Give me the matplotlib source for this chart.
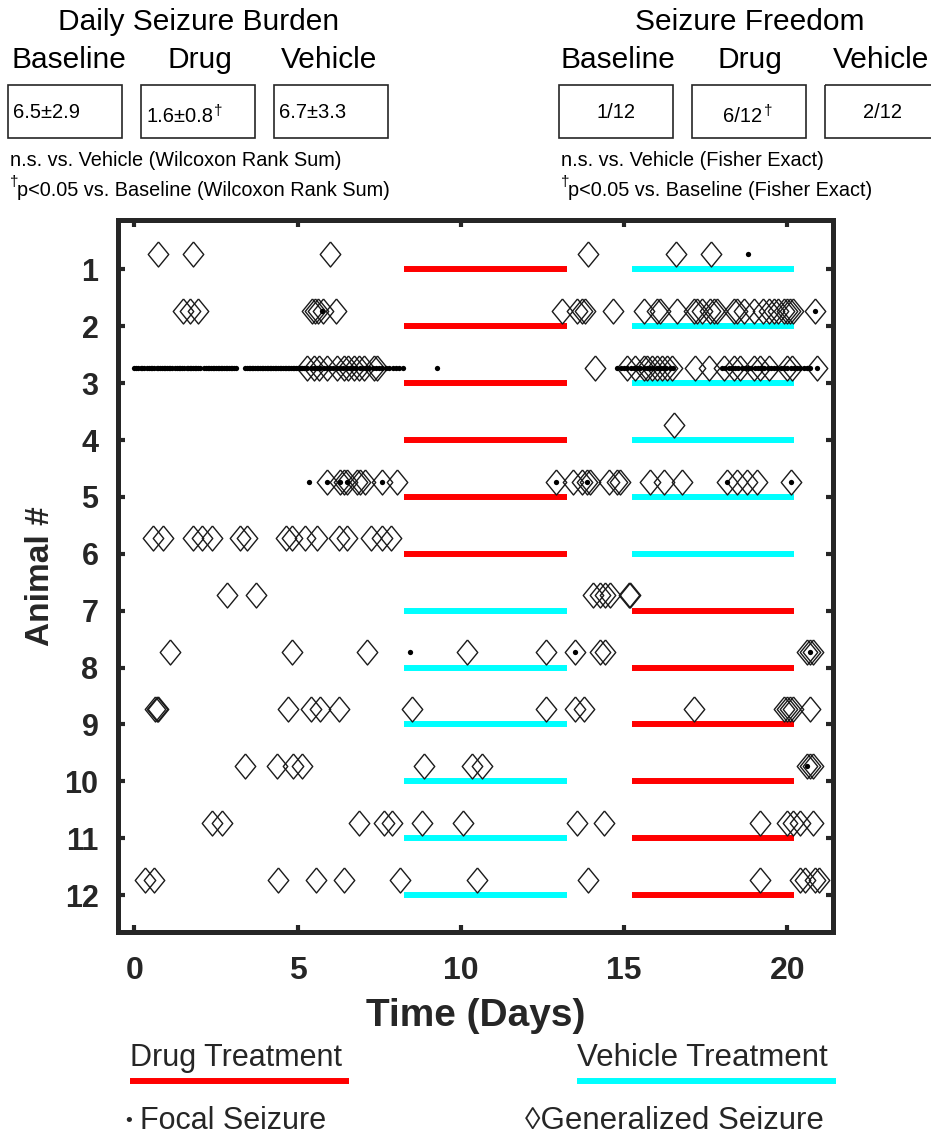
import matplotlib
matplotlib.use("Agg")
import matplotlib.pyplot as plt
from matplotlib.patches import Rectangle

# --- Data (days) ---
animals = list(range(1, 13))
period_a = (8.27, 13.26)   # first treatment block
period_b = (15.25, 20.2)   # second treatment block
drug_first = [1, 2, 3, 4, 5, 6]  # animals 7-12 received vehicle first

gen_1 = [0.73, 1.81, 6.0, 13.9, 16.6, 17.67]
focal_1 = [18.8]

gen_2 = [1.5, 1.72, 1.96, 5.45, 5.54, 5.64, 5.79, 6.19, 13.1, 13.57, 13.7, 13.8, 14.67,
         15.6, 16.0, 16.11, 16.62, 17.13, 17.23, 17.39, 17.64, 17.74, 17.85, 18.36,
         18.46, 18.66, 18.97, 19.27, 19.43, 19.58, 19.73, 19.89, 19.99, 20.09, 20.19, 20.86]
focal_2 = [5.76, 20.86]

gen_3 = [5.29, 5.49, 5.65, 5.9, 6.21, 6.41, 6.56, 6.72, 6.87, 7.02, 7.33, 7.43,
         14.12, 15.09, 15.35, 15.6, 15.7, 15.86, 16.01, 16.16, 16.32, 16.47,
         17.18, 17.59, 18.05, 18.36, 18.56, 18.97, 19.17, 19.43, 19.99, 20.14, 20.9]
focal_3 = [0.0, 0.06, 0.12, 0.2, 0.25, 0.31, 0.4, 0.45, 0.5, 0.55, 0.6, 0.68, 0.74, 0.8,
           0.85, 0.9, 0.95, 1.0, 1.05, 1.1, 1.16, 1.25, 1.32, 1.37, 1.4, 1.46, 1.52, 1.6,
           1.65, 1.7, 1.75, 1.8, 1.85, 1.9, 1.95, 2.0, 2.12, 2.2, 2.25, 2.3, 2.36, 2.4,
           2.45, 2.5, 2.55, 2.6, 2.65, 2.7, 2.75, 2.8, 2.85, 2.9, 2.95, 3.0, 3.05, 3.1,
           3.4, 3.45, 3.5, 3.55, 3.6, 3.65, 3.7, 3.75, 3.8, 3.85, 3.9, 3.95, 4.0, 4.05,
           4.1, 4.15, 4.2, 4.25, 4.3, 4.35, 4.4, 4.45, 4.5, 4.55, 4.6, 4.65, 4.7, 4.75,
           4.8, 4.85, 4.9, 4.95, 5.0, 5.05, 5.1, 5.15, 5.2, 5.3, 5.4, 5.5, 5.6, 5.7,
           5.8, 5.9, 6.0, 6.1, 6.2, 6.3, 6.4, 6.5, 6.6, 6.7, 6.8, 6.9, 7.0, 7.1, 7.2,
           7.3, 7.4, 7.5, 7.6, 7.7, 7.8, 7.92, 8.0, 8.12, 8.24, 9.28,
           14.79, 14.9, 15.0, 15.1, 15.2, 15.3, 15.4, 15.5, 15.6, 15.7, 15.8, 15.9,
           16.0, 16.1, 16.2, 16.3, 16.4, 16.5,
           18.0, 18.1, 18.2, 18.3, 18.4, 18.5, 18.6, 18.7, 18.8, 18.9, 19.0, 19.1,
           19.2, 19.3, 19.4, 19.5, 19.6, 19.7, 19.8, 19.9, 20.0, 20.1, 20.2, 20.3,
           20.4, 20.5, 20.6, 20.7, 20.9]

gen_4 = [16.54]
focal_4 = []

gen_5 = [5.9, 6.31, 6.41, 6.51, 6.82, 6.92, 7.07, 7.58, 8.04, 12.93, 13.45, 13.71, 13.86,
         13.97, 14.53, 14.78, 14.88, 15.8, 16.21, 16.79, 18.15, 18.46, 18.76, 19.07, 20.11]
focal_5 = [5.36, 5.9, 6.31, 6.51, 7.58, 12.93, 13.86, 18.15, 20.11]

gen_6 = [0.57, 0.88, 1.8, 2.07, 2.38, 3.25, 3.45, 4.64, 4.83, 5.24, 5.59, 6.26, 6.51,
         7.25, 7.58, 7.86]
focal_6 = []

gen_7 = [2.84, 3.74, 14.05, 14.27, 14.42, 14.58, 15.14, 15.19]
focal_7 = []

gen_8 = [1.1, 4.83, 7.12, 10.19, 12.62, 13.51, 14.27, 14.42, 20.6, 20.7, 20.8]
focal_8 = [8.43, 13.51, 20.7]

gen_9 = [0.64, 0.69, 0.74, 4.71, 5.42, 5.7, 6.27, 8.51, 12.62, 13.51, 13.77, 17.13,
         19.89, 19.99, 20.09, 20.19, 20.7]
focal_9 = []

gen_10 = [3.4, 4.37, 4.86, 5.15, 8.87, 10.35, 10.66, 20.6, 20.7, 20.8]
focal_10 = [20.6]

gen_11 = [2.38, 2.68, 6.88, 7.66, 7.9, 8.82, 10.07, 13.56, 14.4, 19.17, 19.99, 20.19,
          20.4, 20.8]
focal_11 = []

gen_12 = [0.33, 0.59, 4.4, 5.57, 6.41, 8.15, 10.5, 13.9, 19.17, 20.4, 20.55, 20.86, 20.96]
focal_12 = []

gen_all = [gen_1, gen_2, gen_3, gen_4, gen_5, gen_6, gen_7, gen_8, gen_9, gen_10, gen_11, gen_12]
focal_all = [focal_1, focal_2, focal_3, focal_4, focal_5, focal_6, focal_7, focal_8,
             focal_9, focal_10, focal_11, focal_12]

burden_labels = ["6.5\u00b12.9", "1.6\u00b10.8", "6.7\u00b13.3"]
freedom_labels = ["1/12", "6/12", "2/12"]
group_names = ["Baseline", "Drug", "Vehicle"]

# --- Style ---
plt.rcParams.update({
    'font.family': ['Liberation Sans', 'DejaVu Sans'],
})
DRUG = '#ff0000'
VEH = '#00ffff'
DARK = '#262626'
row_offset = 0.27
diamond = [(0, 1), (0.82, 0), (0, -1), (-0.82, 0), (0, 1)]

fig = plt.figure(figsize=(9.31, 11.35), dpi=100)
ax = fig.add_axes([118 / 931, 1 - 932 / 1135, 715 / 931, 712 / 1135])

for i, a in enumerate(animals):
    if a in drug_first:
        c1, c2 = DRUG, VEH
    else:
        c1, c2 = VEH, DRUG
    ax.plot(period_a, [a, a], color=c1, lw=4.3, solid_capstyle='butt', zorder=2)
    ax.plot(period_b, [a, a], color=c2, lw=4.3, solid_capstyle='butt', zorder=2)
    g = gen_all[i]
    ax.plot(g, [a - row_offset] * len(g), linestyle='none', marker=diamond, ms=18,
            mfc='none', mec='#1a1a1a', mew=1.0, zorder=3)
    f = focal_all[i]
    if f:
        ax.plot(f, [a - row_offset] * len(f), linestyle='none', marker='o', ms=3.8,
                color='black', mew=0, zorder=4)

ax.set_xlim(-0.5, 21.4)
ax.set_ylim(12.65, 0.13)
ax.set_xticks([0, 5, 10, 15, 20])
ax.set_yticks(animals)
for s in ax.spines.values():
    s.set_linewidth(3.6)
    s.set_color(DARK)
ax.tick_params(direction='in', length=5, width=3, color=DARK, top=True, right=True,
               labelsize=22, pad=14)
ax.tick_params(axis='x', labelsize=23, pad=17)
for lab in ax.get_xticklabels() + ax.get_yticklabels():
    lab.set_fontweight('bold')
    lab.set_color(DARK)
ax.set_xlabel('Time (Days)', fontsize=28, fontweight='bold', color=DARK, labelpad=9)
ax.set_ylabel('Animal #', fontsize=24, fontweight='bold', color=DARK, labelpad=6)

# --- Annotations (pixel coordinates overlay) ---
ov = fig.add_axes([0, 0, 1, 1], facecolor='none')
ov.set_xlim(0, 931)
ov.set_ylim(1135, 0)
ov.axis('off')


def dagger_after(t, dy):
    fig.canvas.draw()
    bb = t.get_window_extent()
    x1, y1 = ov.transData.inverted().transform((bb.x1, bb.y1))
    ov.text(x1 + 1, y1 + dy, '\u2020', ha='left', va='center', fontsize=11)


def panel(x0, title, values, centered, note_test, label_x):
    box_w, gap = 114, 19
    ov.text(x0 + (3 * box_w + 2 * gap) / 2 + 1, 22, title, ha='center', va='center', fontsize=21.5)
    for k in range(3):
        bx = x0 + k * (box_w + gap)
        ov.text(label_x[k], 60, group_names[k], ha='center', va='center', fontsize=21.5)
        ov.add_patch(Rectangle((bx, 85), box_w, 53, fill=False, ec=DARK, lw=1.2, clip_on=False))
        ty = 116 if k == 1 else 112
        if centered:
            t = ov.text(bx + box_w / 2 - (6 if k == 1 else 0), ty, values[k], ha='center',
                        va='center', fontsize=14.5)
        else:
            t = ov.text(bx + 5, ty, values[k], ha='left', va='center', fontsize=14.5)
        if k == 1:
            dagger_after(t, 4)
    ov.text(x0 + 2, 160, 'n.s. vs. Vehicle (' + note_test + ')', ha='left', va='center', fontsize=14.3)
    ov.text(x0 + 2, 182, '\u2020', ha='left', va='center', fontsize=11)
    ov.text(x0 + 9, 191, 'p<0.05 vs. Baseline (' + note_test + ')', ha='left', va='center',
            fontsize=14.3)

panel(8, 'Daily Seizure Burden', burden_labels, False, 'Wilcoxon Rank Sum', [69, 200, 329])
panel(559, 'Seizure Freedom', freedom_labels, True, 'Fisher Exact', [618, 750, 881])

# --- Legend ---
ov.text(130, 1058, 'Drug Treatment', ha='left', va='center', fontsize=22, color=DARK)
ov.plot([130, 349], [1081, 1081], color=DRUG, lw=4.3, solid_capstyle='butt')
ov.text(577, 1058, 'Vehicle Treatment', ha='left', va='center', fontsize=22.5, color=DARK)
ov.plot([577, 836], [1081, 1081], color=VEH, lw=4.3, solid_capstyle='butt')
ov.text(125, 1121, '\u2022', ha='left', va='center', fontsize=14, color=DARK)
ov.text(140, 1121, 'Focal Seizure', ha='left', va='center', fontsize=22, color=DARK)
ov.text(525, 1121, '\u25caGeneralized Seizure', ha='left', va='center', fontsize=22.5, color=DARK)

fig.savefig('out.png', dpi=100)
